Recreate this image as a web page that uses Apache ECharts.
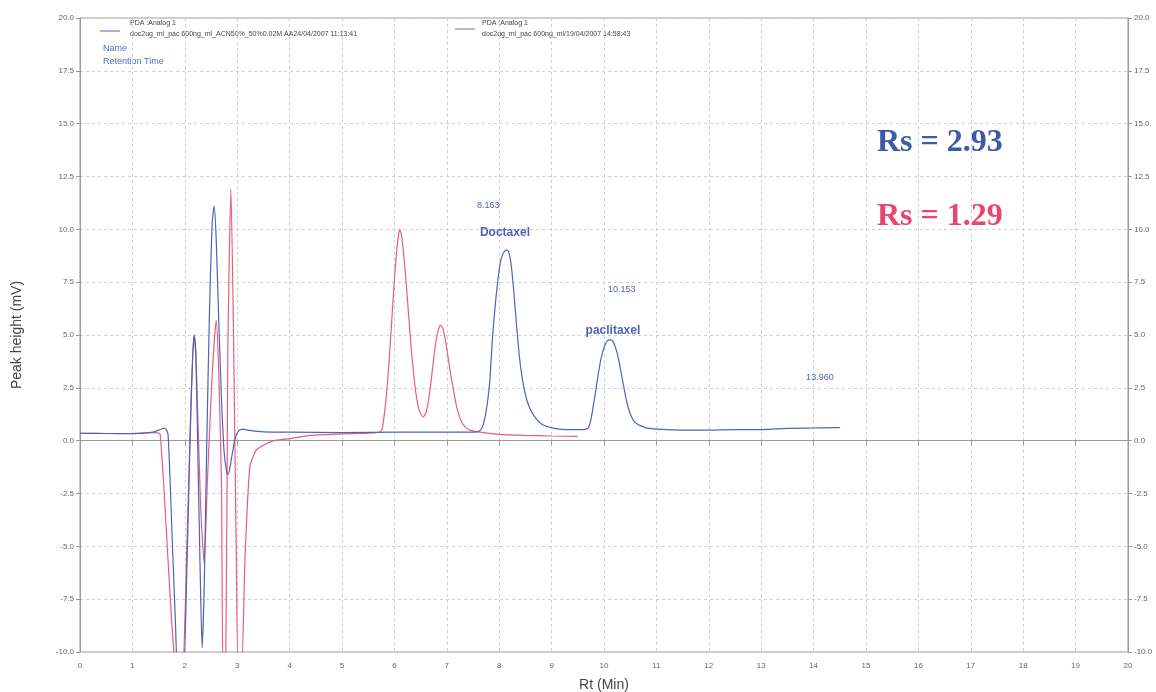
<!DOCTYPE html>
<html>
<head>
<meta charset="utf-8">
<script src="https://cdn.jsdelivr.net/npm/echarts@6/dist/echarts.min.js"></script>
<style>html,body{margin:0;padding:0;background:#fff}#c{width:1156px;height:692px}</style>
</head>
<body>
<div id="c"></div>
<script>
// ---- data ----
const xTicks = [0,1,2,3,4,5,6,7,8,9,10,11,12,13,14,15,16,17,18,19,20];
const yTicks = [-10,-7.5,-5,-2.5,0,2.5,5,7.5,10,12.5,15,17.5,20];

const blueTrace = [
  [0,0.35],[0.5,0.34],[1.0,0.33],[1.4,0.4],[1.55,0.55],[1.62,0.6],[1.68,0.3],
  [1.75,-4],[1.82,-8.5],[1.87,-11],[1.97,-11],[2.04,-6],[2.1,0],[2.15,4],[2.18,5.0],
  [2.21,4.2],[2.26,-2],[2.3,-7],[2.33,-9.8],[2.37,-7],[2.42,0],[2.47,6],[2.52,10.2],
  [2.56,11.1],[2.6,9.5],[2.65,5.5],[2.7,2],[2.75,-0.5],[2.8,-1.5],[2.83,-1.6],
  [2.88,-1.0],[2.95,0],[3.02,0.45],[3.1,0.55],[3.2,0.5],[3.5,0.42],[4.0,0.4],
  [5.0,0.38],[6.0,0.4],[7.0,0.4],[7.6,0.42],
  [7.67,0.6],[7.72,1.0],[7.77,1.7],[7.82,2.8],[7.87,4.8],[7.92,6.3],[7.97,7.5],
  [8.02,8.4],[8.07,8.85],[8.12,9.0],[8.15,9.02],[8.18,8.95],[8.23,8.3],[8.28,7.0],
  [8.33,5.5],[8.38,4.1],[8.43,3.1],[8.48,2.4],[8.53,1.9],[8.6,1.45],[8.7,1.05],
  [8.8,0.8],[8.9,0.68],[9.05,0.58],[9.3,0.52],[9.6,0.52],
  [9.7,0.6],[9.75,1.0],[9.8,1.7],[9.85,2.5],[9.9,3.3],[9.95,3.95],[10.0,4.4],
  [10.05,4.68],[10.1,4.77],[10.13,4.77],[10.17,4.7],[10.22,4.4],[10.27,3.95],
  [10.32,3.3],[10.37,2.65],[10.42,2.0],[10.47,1.5],[10.52,1.15],[10.58,0.9],
  [10.65,0.76],[10.75,0.65],[10.85,0.58],[11.0,0.55],[11.5,0.5],
  [12.0,0.5],[12.5,0.52],[13.0,0.52],[13.5,0.58],[14.0,0.6],[14.4,0.62],[14.5,0.62]
];

const redTrace = [
  [0,0.35],[0.5,0.34],[1.0,0.34],[1.4,0.38],[1.53,0.3],[1.85,-11],[1.95,-11],
  [2.04,-5],[2.12,2],[2.18,5.0],[2.22,3.5],[2.3,-3],[2.37,-5.8],[2.43,-2],[2.52,3],
  [2.6,5.7],[2.65,3],[2.7,-2],[2.73,-11],[2.78,-11],[2.82,4],[2.88,11.9],[2.93,5],
  [2.98,-5],[3.02,-11],[3.08,-11],[3.15,-5.5],[3.24,-1.25],[3.35,-0.5],[3.44,-0.3],
  [3.7,0.0],[4.0,0.1],[4.4,0.25],[5.0,0.32],[5.5,0.35],[5.7,0.4],
  [5.76,0.5],[5.8,1.1],[5.85,2.2],[5.9,3.8],[5.95,5.7],[6.0,7.6],[6.04,8.9],
  [6.08,9.75],[6.1,9.97],[6.13,9.8],[6.17,9.0],[6.22,7.6],[6.27,6.0],[6.32,4.4],
  [6.37,3.1],[6.42,2.1],[6.48,1.4],[6.55,1.12],[6.6,1.3],[6.65,1.9],[6.7,2.8],
  [6.75,3.9],[6.8,4.8],[6.85,5.35],[6.88,5.47],[6.92,5.35],[6.97,4.8],[7.02,4.0],
  [7.07,3.2],[7.12,2.5],[7.17,1.8],[7.22,1.3],[7.28,0.9],[7.35,0.65],[7.44,0.5],
  [7.7,0.38],[8.0,0.3],[8.5,0.25],[9.0,0.22],[9.5,0.2]
];

const peakTexts = ['8.163','Doctaxel','10.153','paclitaxel','13.960'];
const peakCoords = [[7.79,11.15],[8.11,9.83],[10.34,7.13],[10.17,5.19],[14.12,2.97]];
const peakBold = [false,true,false,true,false];

const legendHeads = ['PDA :Analog 1','PDA :Analog 1'];
const legendNames = ['doc2ug_ml_pac 600ng_ml_ACN50%_50%0.02M AA24/04/2007 11:13:41',
                     'doc2ug_ml_pac 600ng_ml/19/04/2007 14:58:43'];
const rsTexts = ['Rs = 2.93','Rs = 1.29'];

// ---- chart ----
const BLUE = '#4f63b3', RED = '#ea5b80';
const chart = echarts.init(document.getElementById('c'));
const tickFont = {color:'#666', fontSize:8, fontFamily:'Liberation Sans'};

const markData = peakTexts.map((t,i)=>({
  name:t, coord:peakCoords[i],
  label:{show:true, formatter:t, color: BLUE,
    fontSize: peakBold[i]?12:9, fontWeight: peakBold[i]?'bold':'normal',
    fontFamily:'Liberation Sans'}
}));

chart.setOption({
  animation:false,
  backgroundColor:'#fff',
  grid:{left:80,right:28,top:18,bottom:40,show:true,borderColor:'#999',borderWidth:1,
        containLabel:false,outerBoundsMode:'none'},
  xAxis:[{
    type:'value',min:0,max:20,interval:1,
    name:'Rt (Min)',nameLocation:'middle',nameGap:26,
    nameTextStyle:{color:'#444',fontSize:14,fontFamily:'Liberation Sans'},
    axisLine:{lineStyle:{color:'#999'}},
    axisTick:{length:4,lineStyle:{color:'#999'}},
    axisLabel:Object.assign({margin:10,formatter:v=>String(v)},tickFont),
    splitLine:{lineStyle:{color:'#d0d0d0',type:[3,3]}}
  }],
  yAxis:[{
    type:'value',min:-10,max:20,interval:2.5,
    name:'Peak height (mV)',nameLocation:'middle',nameGap:56,
    nameTextStyle:{color:'#444',fontSize:14,fontFamily:'Liberation Sans'},
    axisLine:{show:true,lineStyle:{color:'#999'}},
    axisTick:{show:true,length:4,lineStyle:{color:'#999'}},
    axisLabel:Object.assign({margin:6,formatter:v=>v.toFixed(1)},tickFont),
    splitLine:{lineStyle:{color:'#d0d0d0',type:[3,3]}}
  },{
    type:'value',min:-10,max:20,interval:2.5,position:'right',
    axisLine:{show:true,lineStyle:{color:'#999'}},
    axisTick:{show:true,length:4,lineStyle:{color:'#999'}},
    axisLabel:Object.assign({margin:6,formatter:v=>v.toFixed(1)},tickFont),
    splitLine:{show:false}
  }],
  series:[
    {type:'line',name:legendNames[0],data:blueTrace,showSymbol:false,symbol:'none',
     smooth:0.2,
     lineStyle:{color:BLUE,width:1.2},itemStyle:{color:BLUE},clip:true,z:3,
     markPoint:{symbol:'circle',symbolSize:0,data:markData,silent:true}},
    {type:'line',name:legendNames[1],data:redTrace,showSymbol:false,symbol:'none',
     smooth:0.2,
     lineStyle:{color:RED,width:1.2},itemStyle:{color:RED},clip:true,z:2}
  ],
  graphic:[
    {type:'line',shape:{x1:100,y1:31,x2:120,y2:31},style:{stroke:BLUE,lineWidth:1}},
    {type:'text',left:130,top:20,style:{text:legendHeads[0],fontSize:7,fill:'#444',fontFamily:'Liberation Sans'}},
    {type:'text',left:130,top:31,style:{text:legendNames[0],fontSize:7,fill:'#444',fontFamily:'Liberation Sans'}},
    {type:'line',shape:{x1:455,y1:29,x2:475,y2:29},style:{stroke:'#777',lineWidth:1}},
    {type:'text',left:482,top:20,style:{text:legendHeads[1],fontSize:7,fill:'#444',fontFamily:'Liberation Sans'}},
    {type:'text',left:482,top:31,style:{text:legendNames[1],fontSize:7,fill:'#444',fontFamily:'Liberation Sans'}},
    {type:'text',left:103,top:44,style:{text:'Name',fontSize:9,fill:'#4a70c4',fontFamily:'Liberation Sans'}},
    {type:'text',left:103,top:57,style:{text:'Retention Time',fontSize:9,fill:'#4a70c4',fontFamily:'Liberation Sans'}},
    {type:'text',left:877,top:127,style:{text:rsTexts[0],fontSize:32,fontWeight:'bold',fill:'#3d5aa8',fontFamily:'Liberation Serif'}},
    {type:'text',left:877,top:201,style:{text:rsTexts[1],fontSize:32,fontWeight:'bold',fill:'#e8466e',fontFamily:'Liberation Serif'}}
  ]
});
</script>
</body>
</html>
